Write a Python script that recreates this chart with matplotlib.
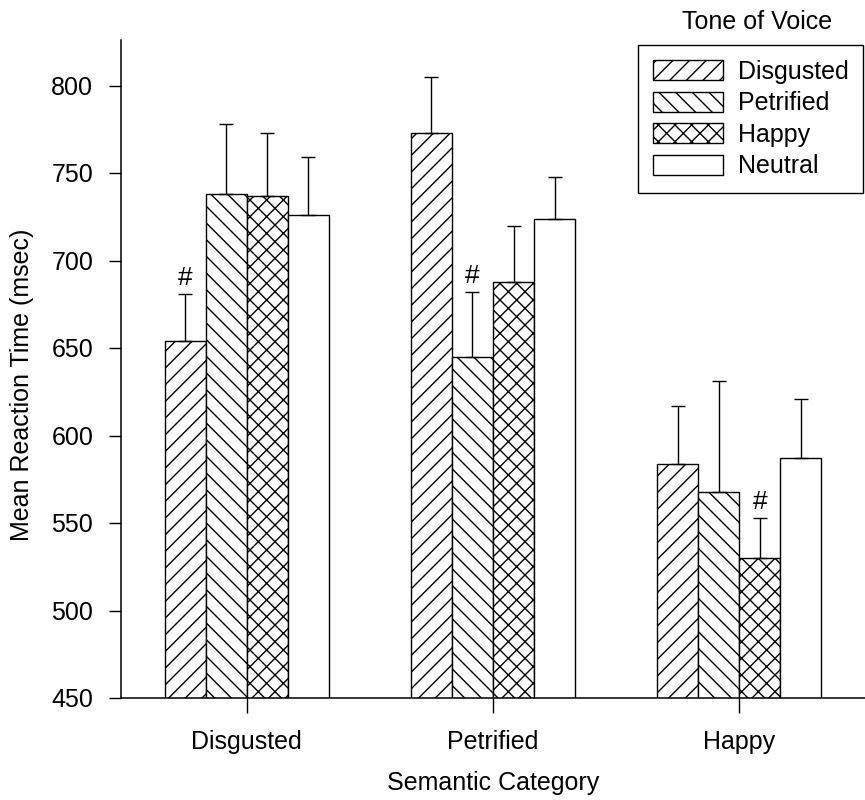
import numpy as np
import matplotlib
matplotlib.use('Agg')
import matplotlib.pyplot as plt

plt.rcParams['font.family'] = ['Liberation Sans', 'DejaVu Sans']
plt.rcParams['hatch.linewidth'] = 1.0

# semantic categories on the x axis, tone-of-voice series in the legend
categories = ['Disgusted', 'Petrified', 'Happy']
tones = ['Disgusted', 'Petrified', 'Happy', 'Neutral']

disgusted_tone = [654, 773, 584]
petrified_tone = [738, 645, 568]
happy_tone = [737, 688, 530]
neutral_tone = [726, 724, 587]

disgusted_err = [27, 32, 33]
petrified_err = [40, 37, 63]
happy_err = [36, 32, 23]
neutral_err = [33, 24, 34]

# which bar gets a '#' mark (tone index for each category)
marked_tone = [0, 1, 2]

yticks = [450, 500, 550, 600, 650, 700, 750, 800]

means = [disgusted_tone, petrified_tone, happy_tone, neutral_tone]
errs = [disgusted_err, petrified_err, happy_err, neutral_err]
hatches = ['//', '\\\\', 'xx', '']

fs = 18

fig = plt.figure(figsize=(8.65, 8), dpi=100)
ax = fig.add_axes([0.1399, 0.1275, 0.8601, 0.8225])

x = np.arange(len(categories))
w = 1 / 6
for i, tone in enumerate(tones):
    pos = x + (i - 1.5) * w
    ax.bar(pos, means[i], width=w, bottom=0, color='white', edgecolor='black',
           linewidth=1.0, hatch=hatches[i], label=tone)
    ax.errorbar(pos, means[i], yerr=[np.zeros(len(categories)), errs[i]],
                fmt='none', ecolor='black', elinewidth=1.0, capsize=5, capthick=1.0)

# '#' marks above the flagged bars
for c, t in enumerate(marked_tone):
    ax.annotate('#', (x[c] + (t - 1.5) * w, means[t][c] + errs[t][c]),
                xytext=(0, 3), textcoords='offset points',
                ha='center', va='bottom', fontsize=fs + 1)

ax.set_xlim(-0.51, 2.51)
ax.set_ylim(450, 826)
ax.set_yticks(yticks)
ax.set_xticks(x)
ax.set_xticklabels(categories)

ax.spines['top'].set_visible(False)
ax.spines['right'].set_visible(False)
ax.spines['left'].set_linewidth(1.1)
ax.spines['bottom'].set_linewidth(1.1)

ax.tick_params(axis='y', direction='out', length=9, width=1, pad=11, labelsize=fs)
ax.tick_params(axis='x', direction='out', length=11, width=1, pad=12, labelsize=fs)

ax.set_xlabel('Semantic Category', fontsize=fs, labelpad=12)
ax.set_ylabel('Mean Reaction Time (msec)', fontsize=fs)
ax.yaxis.set_label_coords(-0.117, 0.476)

leg = ax.legend(loc='upper right', bbox_to_anchor=(0.998, 0.944),
                bbox_transform=fig.transFigure, fontsize=fs, frameon=True,
                fancybox=False, framealpha=1, edgecolor='black',
                handlelength=2.8, handleheight=0.85, handletextpad=0.6,
                labelspacing=0.3, borderpad=0.6, borderaxespad=0)
leg.get_frame().set_linewidth(1.0)

fig.text(757 / 865, 1 - 22 / 800, 'Tone of Voice', ha='center', va='center', fontsize=fs)

fig.savefig('out.png', dpi=100)
